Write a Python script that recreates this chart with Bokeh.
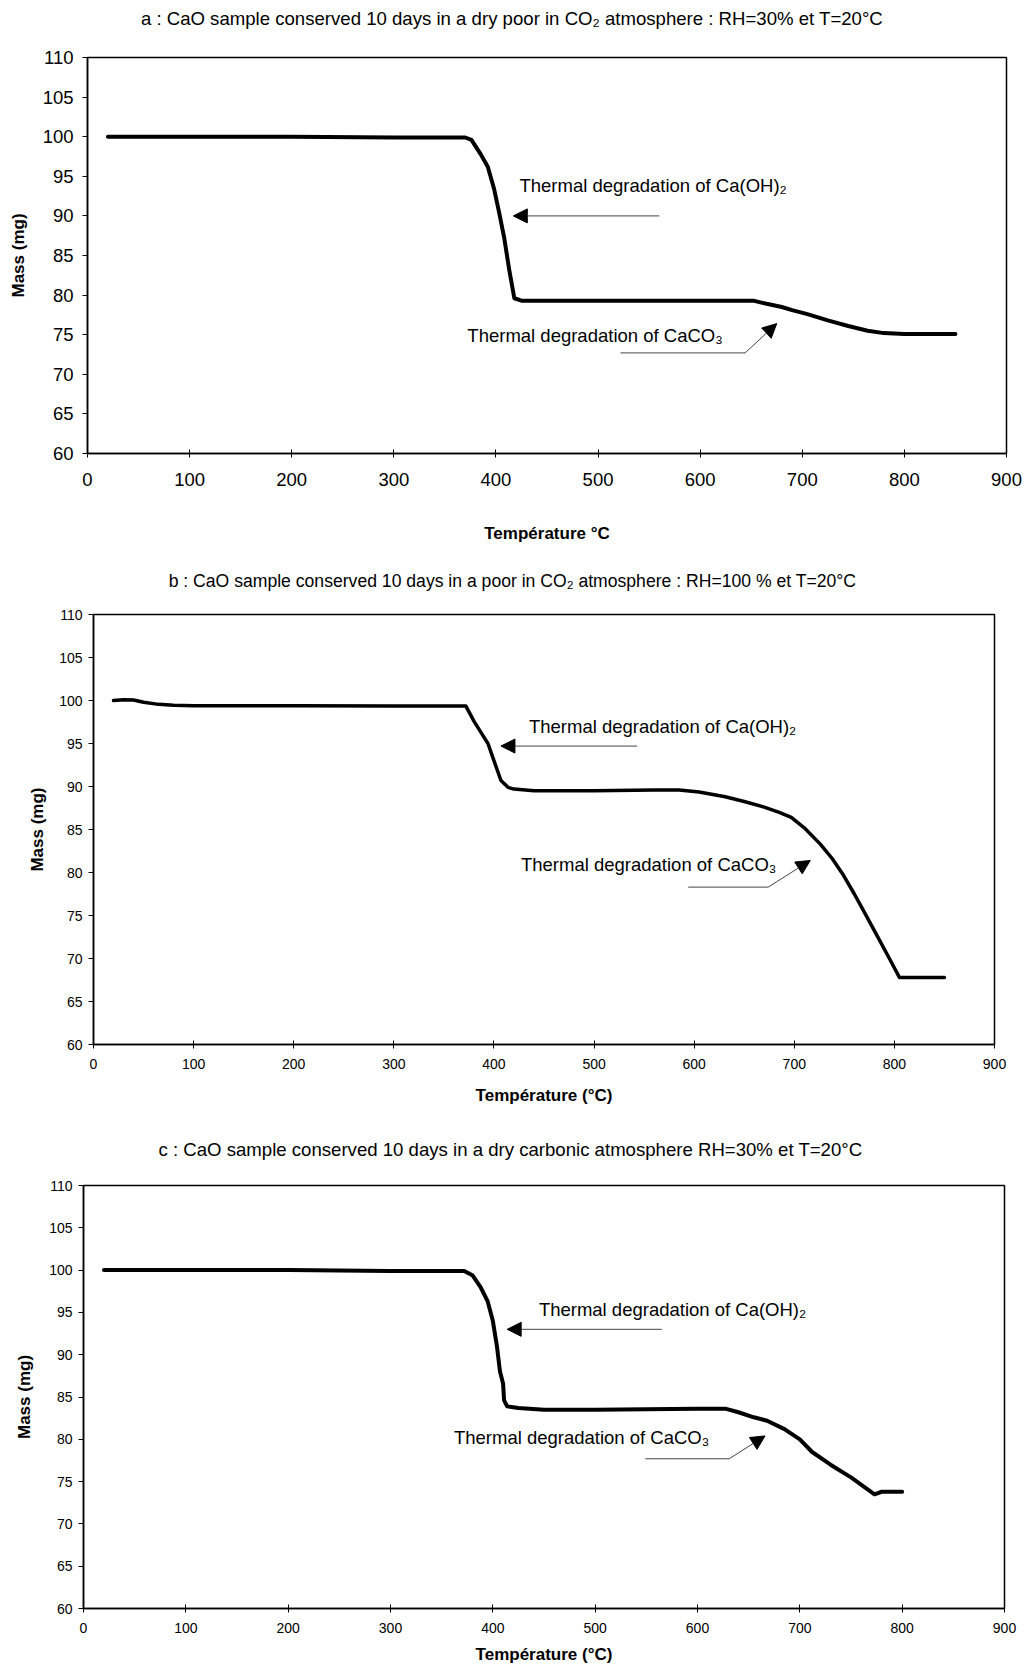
from bokeh.plotting import figure
from bokeh.models import Label, Arrow, NormalHead, Range1d, FixedTicker
from bokeh.embed import file_html
from bokeh.resources import INLINE

# ---------------- data ----------------
TITLE_A = "a : CaO sample conserved 10 days in a dry poor in CO\u2082 atmosphere : RH=30% et T=20°C"
TITLE_B = "b : CaO sample conserved 10 days in a poor in CO\u2082 atmosphere : RH=100 % et T=20°C"
TITLE_C = "c : CaO sample conserved 10 days in a dry carbonic atmosphere RH=30% et T=20°C"

XLABEL_A = "Température °C"
XLABEL_BC = "Température (°C)"
YLABEL = "Mass (mg)"
NOTE_OH = "Thermal degradation of Ca(OH)\u2082"
NOTE_CO3 = "Thermal degradation of CaCO\u2083"

x_ticks = [0, 100, 200, 300, 400, 500, 600, 700, 800, 900]
y_ticks = [60, 65, 70, 75, 80, 85, 90, 95, 100, 105, 110]

temp_a = [20, 100, 200, 300, 370, 376, 385, 392, 398, 403, 408, 413, 418, 425, 500, 600, 652,
          665, 680, 690, 705, 725, 745, 764, 780, 800, 850]
mass_a = [100, 100, 100, 99.9, 99.9, 99.6, 97.8, 96.2, 93.5, 90.5, 87.3, 83.2, 79.6, 79.3, 79.3, 79.3, 79.3,
          78.9, 78.5, 78.1, 77.6, 76.8, 76.1, 75.5, 75.2, 75.1, 75.1]

temp_b = [20, 30, 40, 50, 65, 80, 100, 200, 300, 372, 380, 387, 394, 400, 407, 414, 420, 440, 500,
          560, 585, 605, 631, 650, 670, 685, 697, 710, 726, 738, 749, 760, 769, 782, 795, 805, 850]
mass_b = [100, 100.1, 100.05, 99.8, 99.55, 99.45, 99.4, 99.4, 99.35, 99.35, 97.6, 96.3, 95.0, 93.0, 90.7,
          89.9, 89.7, 89.5, 89.5, 89.6, 89.6, 89.35, 88.8, 88.25, 87.6, 87.0, 86.4, 85.2, 83.3, 81.6,
          79.7, 77.5, 75.6, 72.8, 70.0, 67.8, 67.8]

temp_c = [20, 100, 200, 300, 372, 380, 388, 395, 400, 404, 407, 410, 411, 414, 425, 450, 500, 600,
          628, 640, 655, 668, 685, 700, 712, 730, 750, 773, 780, 800]
mass_c = [100, 100, 100, 99.9, 99.9, 99.4, 98.0, 96.3, 94.0, 91.0, 88.0, 86.6, 84.6, 83.9, 83.7, 83.5,
          83.5, 83.6, 83.6, 83.2, 82.6, 82.2, 81.2, 80.0, 78.5, 77.0, 75.5, 73.5, 73.8, 73.8]

# annotation anchor values (data units): text x/y, Ca(OH)2 arrow tail/tip, CaCO3 leader and arrow tip
oh_text_x = [423, 435, 445]
oh_text_y = [93.8, 97.0, 95.4]
oh_arrow_x0 = [560, 543, 565]
oh_arrow_x1 = [417, 407, 414]
oh_arrow_y = [90.0, 94.7, 93.0]
co3_text_x = [372, 427, 362]
co3_text_y = [74.9, 80.9, 80.2]
co3_line_x0 = [522, 594, 549]
co3_line_x1 = [644, 674, 631]
co3_line_y = [72.7, 78.3, 77.7]
co3_tip_x = [675, 716, 666]
co3_tip_y = [76.4, 81.4, 80.4]

FONT = "Liberation Sans"
W = 1026
TITLE_H = 40


def make_title(text, cx, cy_from_top, font_size):
    """A thin strip (no axes) holding the centred chart title."""
    t = figure(width=W, height=TITLE_H, output_backend="svg", toolbar_location=None,
               x_range=Range1d(0, W), y_range=Range1d(0, TITLE_H),
               x_axis_type=None, y_axis_type=None,
               min_border=0, min_border_left=0, min_border_right=0,
               min_border_top=0, min_border_bottom=0)
    t.outline_line_color = None
    t.grid.visible = False
    t.background_fill_color = "white"
    t.border_fill_color = "white"
    t.add_layout(Label(x=cx, y=TITLE_H - cy_from_top, text=text, text_font=FONT,
                       text_font_size=font_size, text_align="center", text_baseline="middle",
                       text_color="black"))
    return t


def make_panel(idx, xlabel, temp, mass, height, borders, tick_font, tick_std, xlab_std,
               ylab_std, lw):
    left, right, top, bottom = borders
    p = figure(width=W, height=height, output_backend="svg", toolbar_location=None,
               x_range=Range1d(0, 900), y_range=Range1d(60, 110),
               min_border_left=left, min_border_right=right,
               min_border_top=top, min_border_bottom=bottom)
    p.grid.visible = False
    p.outline_line_color = "black"
    p.outline_line_width = 1.5
    p.background_fill_color = "white"
    p.border_fill_color = "white"

    p.xaxis.ticker = FixedTicker(ticks=x_ticks)
    p.yaxis.ticker = FixedTicker(ticks=y_ticks)
    for ax in (p.xaxis[0], p.yaxis[0]):
        ax.axis_line_color = "black"
        ax.axis_line_width = 1.5
        ax.major_tick_line_color = "black"
        ax.major_tick_line_width = 1
        ax.minor_tick_line_color = None
        ax.major_label_text_font = FONT
        ax.major_label_text_font_size = tick_font
        ax.major_label_text_color = "black"
        ax.axis_label_text_font = FONT
        ax.axis_label_text_font_style = "bold"
        ax.axis_label_text_color = "black"
        ax.axis_label_text_font_size = "17px"
    p.xaxis.major_tick_in = 4
    p.xaxis.major_tick_out = 4
    p.yaxis.major_tick_in = 0
    p.yaxis.major_tick_out = 5
    p.xaxis.major_label_standoff = tick_std[0]
    p.yaxis.major_label_standoff = tick_std[1]
    p.xaxis.axis_label = xlabel
    p.yaxis.axis_label = YLABEL
    p.xaxis.axis_label_standoff = xlab_std
    p.yaxis.axis_label_standoff = ylab_std

    p.line(temp, mass, line_color="black", line_width=lw, line_join="round", line_cap="round")

    p.add_layout(Label(x=oh_text_x[idx], y=oh_text_y[idx], text=NOTE_OH, text_font=FONT,
                       text_font_size="18.5px", text_baseline="middle", text_align="left",
                       text_color="black"))
    p.add_layout(Arrow(end=NormalHead(size=14, fill_color="black", line_color="black"),
                       x_start=oh_arrow_x0[idx], y_start=oh_arrow_y[idx],
                       x_end=oh_arrow_x1[idx], y_end=oh_arrow_y[idx],
                       line_color="#444444", line_width=1))
    p.add_layout(Label(x=co3_text_x[idx], y=co3_text_y[idx], text=NOTE_CO3, text_font=FONT,
                       text_font_size="18.5px", text_baseline="middle", text_align="left",
                       text_color="black"))
    p.line([co3_line_x0[idx], co3_line_x1[idx]], [co3_line_y[idx], co3_line_y[idx]],
           line_color="#444444", line_width=1)
    p.add_layout(Arrow(end=NormalHead(size=14, fill_color="black", line_color="black"),
                       x_start=co3_line_x1[idx], y_start=co3_line_y[idx],
                       x_end=co3_tip_x[idx], y_end=co3_tip_y[idx],
                       line_color="#444444", line_width=1))
    return p


ta = make_title(TITLE_A, 511.5, 18, "18.6px")
pa = make_panel(0, XLABEL_A, temp_a, mass_a, 520, (87, 20, 17, 107), "18.5px", (15, 9), 35, 12, 4)
tb = make_title(TITLE_B, 512, 20, "17.6px")
pb = make_panel(1, XLABEL_BC, temp_b, mass_b, 520, (93, 32, 14, 76), "14px", (10, 6), 14, 9, 3.5)
tc = make_title(TITLE_C, 510, 29, "18.6px")
pc = make_panel(2, XLABEL_BC, temp_c, mass_c, 506, (83, 22, 25, 55), "14px", (10, 6), 9, 12, 4)

open("out.html", "w").write(file_html([ta, pa, tb, pb, tc, pc], INLINE))
